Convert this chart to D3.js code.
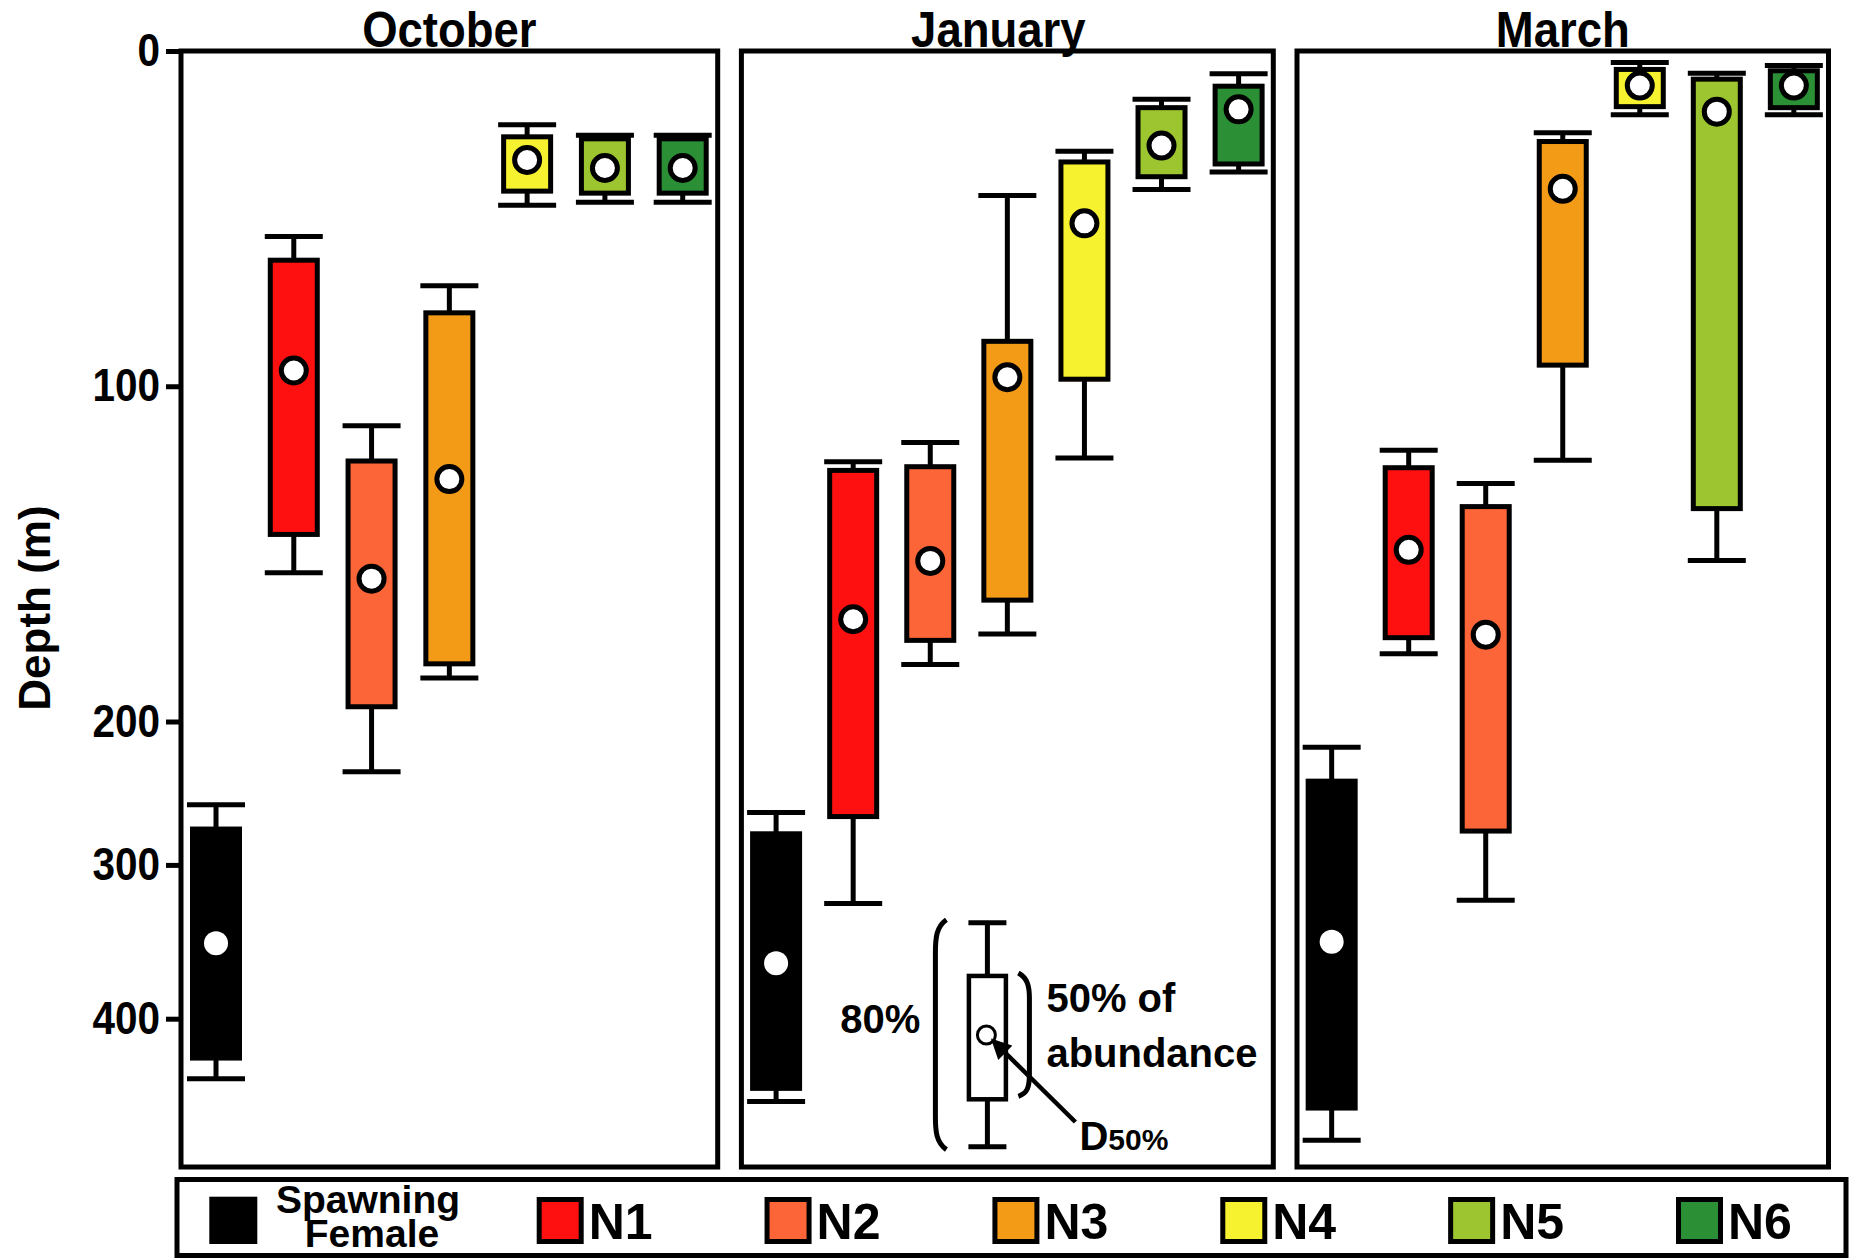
<!DOCTYPE html>
<html>
<head>
<meta charset="utf-8">
<script src="https://cdn.jsdelivr.net/npm/d3@7"></script>
<style>
  html, body { margin: 0; padding: 0; background: #fff; }
  svg { display: block; font-family: "Liberation Sans", Arial, sans-serif; }
</style>
</head>
<body>
<svg id="chart" width="1851" height="1258"></svg>
<script>
// ---------------- DATA ----------------
const months = ["October", "January", "March"];
const categories = ["Spawning Female", "N1", "N2", "N3", "N4", "N5", "N6"];
const legendLabels = ["Spawning\nFemale", "N1", "N2", "N3", "N4", "N5", "N6"];
const colors = ["#000000", "#FF1010", "#FC6538", "#F39A17", "#F6F22F", "#9DC52F", "#2B8F35"];
const yTicks = [0, 100, 200, 300, 400];

// depth (m): upper whisker (10%), box top (25%), D50, box bottom (75%), lower whisker (90%)
const octWhiskerTop = [258, 55.3, 111.8, 70, 22, 25.1, 25.1];
const octBoxTop     = [275, 62.4, 122.3, 78.1, 25.6, 26.2, 26.2];
const octD50        = [351, 95.3, 157.4, 127.7, 32.5, 34.9, 34.9];
const octBoxBottom  = [425.6, 144.2, 195.6, 182.8, 41.8, 42.4, 42.4];
const octWhiskerBot = [439, 155.6, 235.1, 187, 46, 45.1, 45.1];

const janWhiskerTop = [263.5, 122.5, 116.8, 43.1, 29.9, 14.4, 6.8];
const janBoxTop     = [278.3, 125.1, 124, 86.6, 33.1, 16.9, 10.5];
const janD50        = [363.9, 169.5, 152.1, 97.3, 51.4, 28.2, 17.4];
const janBoxBottom  = [445.3, 266.3, 175.8, 163.8, 97.9, 37.5, 33.7];
const janWhiskerBot = [453.9, 325.1, 183, 173.9, 121.4, 41.3, 36.1];

const marWhiskerTop = [218, 119.1, 129, 24.4, 3.4, 6.6, 4.3];
const marBoxTop     = [241.6, 124.3, 135.9, 27, 5.5, 8.4, 5.9];
const marD50        = [349.9, 148.8, 174.1, 41.1, 10.3, 18.1, 10.3];
const marBoxBottom  = [458.1, 175, 276.4, 93.7, 16.6, 136.5, 16.9];
const marWhiskerBot = [479, 179.8, 323, 122.1, 19, 152, 19];

// explanatory key (depth units): whisker top, box top, D50, box bottom, whisker bottom
const keyStats = [337.6, 372.2, 410.6, 452.4, 483.2];

// ---------------- BUILD ----------------
const monthData = [
  [octWhiskerTop, octBoxTop, octD50, octBoxBottom, octWhiskerBot],
  [janWhiskerTop, janBoxTop, janD50, janBoxBottom, janWhiskerBot],
  [marWhiskerTop, marBoxTop, marD50, marBoxBottom, marWhiskerBot]
].map(arrs => categories.map((c, i) => ({
  cat: c, color: colors[i],
  wt: arrs[0][i], bt: arrs[1][i], d50: arrs[2][i], bb: arrs[3][i], wb: arrs[4][i]
})));

const svg = d3.select("#chart");
const FONT = "'Liberation Sans', Arial, sans-serif";

// piecewise depth axis (0-200 m stretched, 200-500 m compressed)
const y = d3.scaleLinear()
  .domain([0, 200, 300, 400, 500])
  .range([51, 721.5, 864.9, 1018.7, 1172.5]);

const panels = [
  { x0: 181, x1: 717.7, tdx: 0 },
  { x0: 741.4, x1: 1273.3, tdx: -9 },
  { x0: 1297, x1: 1828.5, tdx: 0 }
];
const panelTop = 51, panelBottom = 1167;
const boxW = 47, capW = 58, SW = 5;

months.forEach((m, pi) => {
  const p = panels[pi];
  const x = d3.scalePoint().domain(categories).range([p.x0, p.x1]).padding(0.45);
  const g = svg.append("g");

  // frame
  g.append("rect")
    .attr("x", p.x0).attr("y", panelTop)
    .attr("width", p.x1 - p.x0).attr("height", panelBottom - panelTop)
    .attr("fill", "none").attr("stroke", "#000").attr("stroke-width", 5);

  // title
  g.append("text")
    .attr("transform", `translate(${(p.x0 + p.x1) / 2 + p.tdx},47) scale(0.91,1)`)
    .attr("text-anchor", "middle")
    .attr("font-family", FONT).attr("font-weight", "bold").attr("font-size", 50)
    .text(m);

  const data = monthData[pi];
  const items = g.selectAll("g.item").data(data).join("g").attr("class", "item");

  // whiskers
  items.append("line")
    .attr("x1", d => x(d.cat)).attr("x2", d => x(d.cat))
    .attr("y1", d => y(d.wt)).attr("y2", d => y(d.bt))
    .attr("stroke", "#000").attr("stroke-width", SW);
  items.append("line")
    .attr("x1", d => x(d.cat)).attr("x2", d => x(d.cat))
    .attr("y1", d => y(d.bb)).attr("y2", d => y(d.wb))
    .attr("stroke", "#000").attr("stroke-width", SW);
  // caps
  items.append("line")
    .attr("x1", d => x(d.cat) - capW / 2).attr("x2", d => x(d.cat) + capW / 2)
    .attr("y1", d => y(d.wt)).attr("y2", d => y(d.wt))
    .attr("stroke", "#000").attr("stroke-width", SW);
  items.append("line")
    .attr("x1", d => x(d.cat) - capW / 2).attr("x2", d => x(d.cat) + capW / 2)
    .attr("y1", d => y(d.wb)).attr("y2", d => y(d.wb))
    .attr("stroke", "#000").attr("stroke-width", SW);
  // boxes
  items.append("rect")
    .attr("x", d => x(d.cat) - boxW / 2).attr("width", boxW)
    .attr("y", d => y(d.bt)).attr("height", d => y(d.bb) - y(d.bt))
    .attr("fill", d => d.color).attr("stroke", "#000").attr("stroke-width", SW);
  // D50 dots
  items.append("circle")
    .attr("cx", d => x(d.cat)).attr("cy", d => y(d.d50))
    .attr("r", d => d.cat === "Spawning Female" ? 12 : 12.5)
    .attr("fill", "#fff")
    .attr("stroke", d => d.cat === "Spawning Female" ? "none" : "#000")
    .attr("stroke-width", 5);
});

// y axis
const axis = d3.axisLeft(y).tickValues(yTicks).tickSize(15).tickPadding(9).tickFormat(d3.format("d"));
const ag = svg.append("g").attr("transform", `translate(${panels[0].x0},0)`).call(axis);
ag.select(".domain").remove();
ag.selectAll(".tick line").attr("stroke", "#000").attr("stroke-width", 5);
ag.selectAll(".tick text")
  .attr("fill", "#000")
  .attr("font-family", FONT).attr("font-weight", "bold").attr("font-size", 46)
  .attr("transform", "scale(0.88,1)");

svg.append("text")
  .attr("transform", `translate(50,608) rotate(-90)`)
  .attr("text-anchor", "middle")
  .attr("font-family", FONT).attr("font-weight", "bold").attr("font-size", 44)
  .text("Depth (m)");

// ---------------- KEY (January panel) ----------------
const kx = panels[1].x0 + 246;
const [kwt, kbt, kd, kbb, kwb] = keyStats.map(v => y(v));
const kg = svg.append("g");
kg.append("line").attr("x1", kx).attr("x2", kx).attr("y1", kwt).attr("y2", kbt)
  .attr("stroke", "#000").attr("stroke-width", SW);
kg.append("line").attr("x1", kx).attr("x2", kx).attr("y1", kbb).attr("y2", kwb)
  .attr("stroke", "#000").attr("stroke-width", SW);
[kwt, kwb].forEach(v => kg.append("line")
  .attr("x1", kx - 19).attr("x2", kx + 19).attr("y1", v).attr("y2", v)
  .attr("stroke", "#000").attr("stroke-width", SW));
kg.append("rect").attr("x", kx - 18.5).attr("width", 37).attr("y", kbt).attr("height", kbb - kbt)
  .attr("fill", "#fff").attr("stroke", "#000").attr("stroke-width", 4.5);
kg.append("circle").attr("cx", kx - 1).attr("cy", kd).attr("r", 9)
  .attr("fill", "none").attr("stroke", "#000").attr("stroke-width", 3);

// brackets
kg.append("path")
  .attr("d", `M${kx - 41},${kwt - 3} C${kx - 51},${kwt + 4} ${kx - 52},${kwt + 15} ${kx - 52},${kwt + 30}
              L${kx - 52},${kwb - 30} C${kx - 52},${kwb - 15} ${kx - 51},${kwb - 4} ${kx - 41},${kwb + 3}`)
  .attr("fill", "none").attr("stroke", "#000").attr("stroke-width", 5);
kg.append("path")
  .attr("d", `M${kx + 31},${kbt - 3} C${kx + 40},${kbt + 2} ${kx + 42},${kbt + 10} ${kx + 42},${kbt + 22}
              L${kx + 42},${kbb - 25} C${kx + 42},${kbb - 12} ${kx + 40},${kbb - 6} ${kx + 31},${kbb - 3}`)
  .attr("fill", "none").attr("stroke", "#000").attr("stroke-width", 5);

// arrow
svg.append("defs").append("marker")
  .attr("id", "arrowhead").attr("viewBox", "0 0 10 10")
  .attr("refX", 9).attr("refY", 5).attr("markerWidth", 4.5).attr("markerHeight", 4.5)
  .attr("orient", "auto").attr("markerUnits", "strokeWidth")
  .append("path").attr("d", "M0,0 L10,5 L0,10 Z").attr("fill", "#000");
kg.append("line")
  .attr("x1", kx + 88).attr("y1", kd + 87)
  .attr("x2", kx + 5).attr("y2", kd + 5)
  .attr("stroke", "#000").attr("stroke-width", 4.5)
  .attr("marker-end", "url(#arrowhead)");

const annot = (t, xx, yy, fs, anchor) => kg.append("text")
  .attr("x", xx).attr("y", yy).attr("text-anchor", anchor || "start")
  .attr("font-family", FONT).attr("font-weight", "bold").attr("font-size", fs).text(t);
annot("80%", kx - 67, kd - 2, 40, "end");
annot("50% of", kx + 59, kd - 23, 40);
annot("abundance", kx + 59, kd + 32, 40);
const dt = annot("D", kx + 92, kd + 115, 40);
dt.append("tspan").attr("font-size", 30).text("50%");

// ---------------- LEGEND ----------------
const lg = svg.append("g");
lg.append("rect").attr("x", 177).attr("y", 1179.5).attr("width", 1669).attr("height", 76)
  .attr("fill", "none").attr("stroke", "#000").attr("stroke-width", 5);
const lx = d3.scaleLinear().domain([1, 6]).range([536.7, 1676]);
categories.forEach((c, i) => {
  const sx = i === 0 ? 209.3 : lx(i);
  const sw = i === 0 ? 48 : 42;
  lg.append("rect")
    .attr("x", i === 0 ? sx : sx + 2.5).attr("y", i === 0 ? 1196.7 : 1199.5)
    .attr("width", sw).attr("height", i === 0 ? 47.3 : 42)
    .attr("fill", colors[i]).attr("stroke", "#000").attr("stroke-width", i === 0 ? 0 : 5);
  if (i === 0) {
    const lines = legendLabels[0].split("\n");
    lg.append("text").attr("x", 368).attr("y", 1213).attr("text-anchor", "middle")
      .attr("font-family", FONT).attr("font-weight", "bold").attr("font-size", 39).text(lines[0]);
    lg.append("text").attr("x", 372).attr("y", 1247).attr("text-anchor", "middle")
      .attr("font-family", FONT).attr("font-weight", "bold").attr("font-size", 39).text(lines[1]);
  } else {
    lg.append("text").attr("x", sx + 52).attr("y", 1238.5)
      .attr("font-family", FONT).attr("font-weight", "bold").attr("font-size", 50).text(legendLabels[i]);
  }
});
</script>
</body>
</html>
